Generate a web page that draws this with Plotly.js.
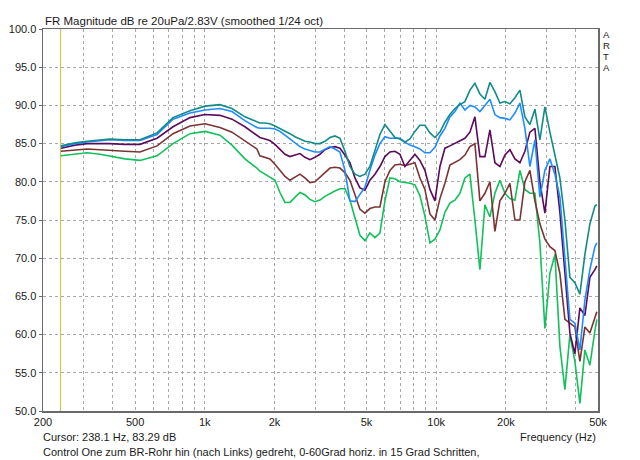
<!DOCTYPE html>
<html>
<head>
<meta charset="utf-8">
<script src="https://cdn.plot.ly/plotly-3.0.1.min.js"></script>
<style>html,body{margin:0;padding:0;background:#fff;}#chart{width:640px;height:460px;}</style>
</head>
<body>
<div id="chart"></div>
<script>
// Frequencies (Hz)
const freqs = [239, 275, 310, 353, 389, 452, 525, 622, 729, 863, 1002, 1163, 1311, 1491, 1679,
  1731, 1820, 1912, 2010, 2113, 2221, 2334, 2453, 2577, 2709, 2847, 2992, 3145, 3305, 3474, 3651,
  3837, 4033, 4238, 4455, 4682, 4920, 5171, 5435, 5712, 6003, 6309, 6631, 6969, 7324, 7698, 8090,
  8503, 8936, 9392, 9871, 10375, 10904, 11460, 12044, 12658, 13304, 13982, 14695, 15444, 16232,
  17060, 17929, 18843, 19804, 20814, 21876, 22991, 24163, 25395, 26690, 28051, 29481, 30985,
  32564, 34225, 35970, 37803, 39731, 41757, 43886, 46123, 48474, 49430];

// Magnitude (dB), one array per measurement angle
const tealDb = [84.7, 85.1, 85.3, 85.5, 85.6, 85.5, 85.5, 86.4, 88.4, 89.3, 89.9, 90.1, 89.6, 88.5, 87.8,
  87.7, 87.7, 87.6, 87.3, 87.0, 86.6, 86.3, 85.9, 85.6, 85.3, 85.2, 85.0, 85.0, 85.3, 85.8, 86.0,
  85.7, 84.0, 82.0, 81.0, 80.7, 81.0, 82.0, 84.0, 86.2, 87.5, 86.6, 85.8, 85.6, 85.2, 85.6, 86.6,
  87.4, 87.4, 86.4, 85.8, 86.5, 87.8, 88.8, 89.6, 90.1, 90.5, 92.0, 92.9, 91.5, 90.8,
  93.0, 91.8, 90.3, 90.5, 90.2, 91.0, 92.0, 88.5, 87.5, 89.5, 85.5, 89.8, 86.5,
  83.5, 80.5, 75.0, 67.5, 66.8, 65.3, 70.5, 74.5, 76.8, 77.0];

const blueDb = [84.6, 85.0, 85.2, 85.4, 85.5, 85.4, 85.4, 86.2, 88.2, 89.0, 89.4, 89.6, 89.2, 88.0, 87.1,
  87.0, 87.0, 87.0, 86.9, 86.6, 86.1, 85.6, 85.0, 84.6, 84.3, 84.1, 83.9, 83.9, 84.3, 84.6, 84.3,
  83.9, 81.5, 77.5, 77.4, 78.3, 79.3, 81.5, 83.5, 85.0, 85.9, 85.7, 85.7, 85.7, 85.2, 84.8, 84.6,
  84.3, 83.8, 83.8, 84.5, 86.0, 87.0, 88.5, 89.2, 90.3, 89.4, 90.0, 89.8, 89.2, 90.0,
  90.8, 88.8, 88.4, 88.3, 88.1, 89.0, 90.3, 87.0, 82.0, 85.5, 78.0, 81.5, 83.0,
  81.0, 78.0, 70.0, 62.0, 61.5, 58.0, 64.5, 68.5, 71.5, 72.0];

const purpleDb = [84.4, 84.8, 85.0, 85.0, 85.0, 84.9, 84.9, 85.7, 87.2, 88.4, 88.8, 88.7, 88.2, 87.2, 86.1,
  85.8, 85.6, 85.4, 84.9, 84.2, 83.6, 83.3, 83.5, 83.7, 83.2, 82.9, 83.2, 83.6, 84.2, 84.5, 84.6,
  84.4, 83.5, 82.5, 80.5, 79.2, 78.9, 80.2, 81.0, 82.0, 83.3, 83.9, 84.0, 83.6, 82.0, 82.8, 83.6,
  82.8, 81.5, 79.0, 77.5, 82.0, 84.4, 84.7, 85.0, 85.3, 85.7, 86.5, 88.5, 83.3, 83.3,
  86.8, 82.5, 82.0, 83.5, 84.2, 83.0, 82.5, 84.0, 86.5, 87.0, 80.0, 75.9, 82.0,
  82.0, 76.0, 68.0, 60.2, 57.5, 63.5, 62.5, 67.5, 68.5, 69.0];

const brownDb = [84.0, 84.2, 84.3, 84.2, 84.1, 84.0, 83.9, 84.7, 86.3, 87.3, 87.6, 87.1, 86.5, 85.4, 84.3,
  83.4, 83.2, 83.0, 82.3, 81.5, 80.7, 80.2, 80.6, 81.0, 80.5, 79.9, 80.0, 80.6, 81.2, 81.8, 81.9,
  81.8, 81.2, 80.2, 78.3, 76.4, 75.9, 76.5, 76.7, 76.7, 80.0, 81.5, 82.2, 82.3, 82.1, 82.3, 82.5,
  80.5, 79.0, 75.8, 75.0, 77.8, 79.8, 82.2, 82.5, 82.9, 83.5, 84.6, 85.0, 77.5, 78.5,
  80.0, 73.5, 77.5, 78.5, 79.8, 75.0, 75.0, 80.0, 81.5, 77.5, 74.5, 72.5, 71.5,
  71.0, 68.0, 62.0, 61.5, 61.0, 56.5, 61.0, 60.2, 62.3, 63.0];

const greenDb = [83.4, 83.6, 83.8, 83.6, 83.4, 83.0, 82.8, 83.4, 85.0, 86.3, 86.6, 86.1, 84.8, 83.0, 81.8,
  81.4, 81.0, 80.6, 80.2, 78.6, 77.3, 77.3, 78.0, 78.6, 78.3, 77.7, 77.4, 77.6, 78.1, 78.5, 78.8,
  79.1, 79.1, 77.6, 75.3, 73.0, 72.3, 73.3, 72.7, 73.3, 77.5, 80.5, 80.4, 80.0, 79.9, 79.8, 79.6,
  78.2, 75.5, 72.0, 72.5, 73.7, 76.0, 77.2, 77.6, 78.5, 80.5, 81.0, 75.0, 68.5, 77.0,
  75.4, 78.5, 80.2, 78.5, 77.8, 77.6, 81.5, 79.0, 78.5, 78.5, 72.0, 60.8, 68.0,
  70.5, 58.5, 52.8, 60.0, 56.5, 51.0, 58.0, 56.0, 60.5, 62.0];

// Axis tick labels
const xTickVals = [200, 300, 400, 500, 600, 700, 800, 900, 1000, 2000, 3000, 4000, 5000, 6000, 7000, 8000, 9000, 10000, 20000, 30000, 40000, 50000];
const xTickText = ['200', '', '', '500', '', '', '', '', '1k', '2k', '', '', '5k', '', '', '', '', '10k', '20k', '', '', '50k'];
const yTickVals = [50, 55, 60, 65, 70, 75, 80, 85, 90, 95, 100];
const yTickText = ['50.0', '55.0', '60.0', '65.0', '70.0', '75.0', '80.0', '85.0', '90.0', '95.0', '100.0'];
const cursorFreq = 238.1;
const sideLetters = ['A', 'R', 'T', 'A'];

const series = [
  {y: greenDb, color: '#12c05c'},
  {y: brownDb, color: '#7a3434'},
  {y: purpleDb, color: '#5c0a5c'},
  {y: blueDb, color: '#1e8cff'},
  {y: tealDb, color: '#138a8a'}
];

const traces = series.map(s => ({
  x: freqs, y: s.y, type: 'scatter', mode: 'lines',
  line: {color: s.color, width: 1.6}, hoverinfo: 'skip', showlegend: false
}));

const font = {family: 'Liberation Sans, Arial, sans-serif', size: 11, color: '#1a1a1a'};

const ann = [
  {text: 'FR Magnitude dB re 20uPa/2.83V (smoothed 1/24 oct)', xref: 'paper', yref: 'paper', x: 0, y: 1,
   xanchor: 'left', yanchor: 'bottom', xshift: 0, yshift: 0, showarrow: false, font: {...font, size: 11.5}},
  {text: 'Cursor: 238.1 Hz, 83.29 dB', xref: 'paper', yref: 'paper', x: 0, y: 0,
   xanchor: 'left', yanchor: 'middle', xshift: -2, yshift: -26, showarrow: false, font: font},
  {text: 'Control One zum BR-Rohr hin (nach Links) gedreht, 0-60Grad horiz. in 15 Grad Schritten,', xref: 'paper', yref: 'paper', x: 0, y: 0,
   xanchor: 'left', yanchor: 'middle', xshift: -2, yshift: -41, showarrow: false, font: font},
  {text: 'Frequency (Hz)', xref: 'paper', yref: 'paper', x: 1, y: 0,
   xanchor: 'right', yanchor: 'middle', xshift: 0, yshift: -26, showarrow: false, font: font}
];
sideLetters.forEach((ch, i) => {
  ann.push({text: ch, xref: 'paper', yref: 'paper', x: 1, y: 1, xanchor: 'center', yanchor: 'middle',
    xshift: 8, yshift: -5.5 - i * 11, borderpad: 0,
    showarrow: false, font: {...font, size: 9.5}});
});

const layout = {
  width: 640, height: 460,
  margin: {l: 43, r: 42, t: 29, b: 49, pad: 0},
  paper_bgcolor: '#ffffff', plot_bgcolor: '#ffffff',
  font: font,
  xaxis: {
    type: 'log', range: [Math.log10(200), Math.log10(50000)],
    tickvals: xTickVals, ticktext: xTickText, ticks: '',
    showgrid: true, gridcolor: '#a8a8a8', griddash: 'dot', gridwidth: 1,
    showline: true, linecolor: '#6a6a6a', linewidth: 1.5, mirror: true,
    zeroline: false, tickfont: font, fixedrange: true
  },
  yaxis: {
    range: [50, 100], tickvals: yTickVals, ticktext: yTickText,
    ticks: 'outside', ticklen: 3, tickcolor: '#6a6a6a',
    showgrid: true, gridcolor: '#a8a8a8', griddash: 'dot', gridwidth: 1,
    showline: true, linecolor: '#6a6a6a', linewidth: 1.5, mirror: true,
    zeroline: false, tickfont: font, fixedrange: true
  },
  shapes: [{type: 'line', xref: 'x', yref: 'paper', x0: cursorFreq, x1: cursorFreq, y0: 0, y1: 1,
    line: {color: '#c8c85a', width: 1.2}, layer: 'below'}],
  annotations: ann
};

Plotly.newPlot('chart', traces, layout, {staticPlot: true, displayModeBar: false});
</script>
</body>
</html>
